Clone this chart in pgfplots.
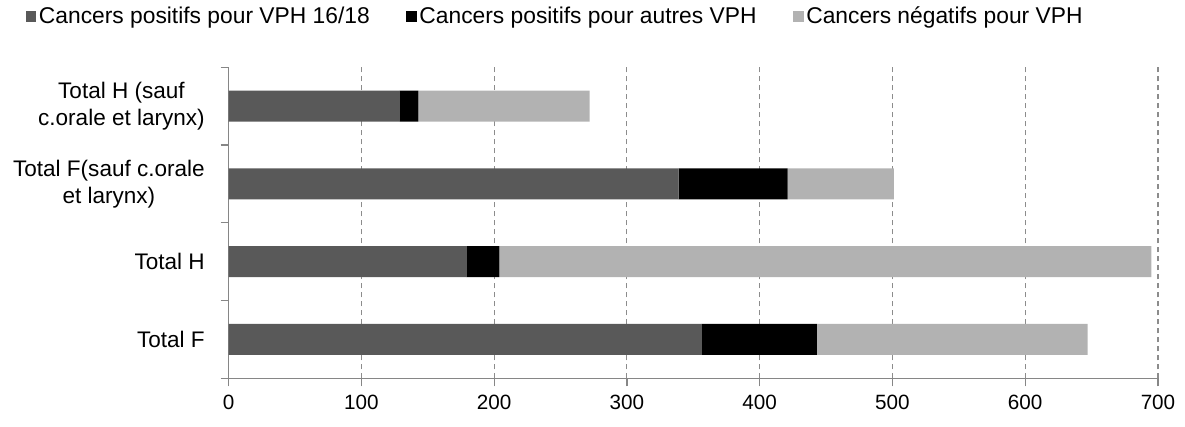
\documentclass[border=0pt]{standalone}
\usepackage{fontspec}
\setmainfont{Liberation Sans}
\usepackage{pgfplots}
\pgfplotsset{compat=1.18}
\definecolor{c1}{HTML}{595959}
\definecolor{c2}{HTML}{000000}
\definecolor{c3}{HTML}{B2B2B2}
\definecolor{axgray}{HTML}{868686}
\definecolor{gridgray}{HTML}{8C8C8C}
\begin{document}
\begin{tikzpicture}
\useasboundingbox (-171.45pt,-36.5pt) rectangle (717.3pt,283.75pt);
\begin{axis}[at={(0,0)}, anchor=south west, scale only axis,
  width=697.05pt, height=233.25pt,
  xbar stacked, bar width=23.25pt,
  xmin=0, xmax=700, ymin=-0.5, ymax=3.5,
  xtick={0,100,...,700}, ytick={0,1,2,3},
  minor ytick={-0.5,0.5,1.5,2.5,3.5},
  yticklabels={Total F, Total H, {Total F(sauf c.orale\\et larynx)}, {Total H (sauf\\c.orale et larynx)}},
  axis lines=left, axis line style={-, draw=axgray, line width=0.9pt},
  tick align=outside, major tick length=6pt, minor tick length=6pt,
  major y tick style={draw=none},
  minor y tick style={draw=axgray, line width=0.9pt},
  x tick style={draw=axgray, line width=0.9pt},
  xmajorgrids, grid style={draw=gridgray, line width=0.8pt, dash pattern=on 3.75pt off 3pt},
  /pgf/number format/assume math mode=true,
  xticklabel style={font=\fontsize{15.5}{20}\selectfont, inner sep=0pt, yshift=-6pt},
  yticklabel style={font=\fontsize{16.9}{20.3}\selectfont, align=center, inner sep=0pt, xshift=-11.7pt},
  legend style={draw=none, at={(-0.2185,1.1643)}, anchor=west, legend columns=3,
    font=\fontsize{17.1}{20}\selectfont, inner sep=0pt,
    nodes={inner sep=1.9pt},
    /tikz/every even column/.append style={column sep=25.5pt}},
  legend image code/.code={\fill[#1] (0pt,-4pt) rectangle (8pt,4pt);},
  legend cell align=left,
]
\addplot[fill=c1, draw=none] coordinates {(356,0) (179,1) (339,2) (129,3)};
\addplot[fill=c2, draw=none] coordinates {(87,0) (25,1) (82,2) (14,3)};
\addplot[fill=c3, draw=none] coordinates {(204,0) (491,1) (80,2) (129,3)};
\legend{Cancers positifs pour VPH 16/18, Cancers positifs pour autres VPH, Cancers négatifs pour VPH}
\end{axis}
\end{tikzpicture}
\end{document}
